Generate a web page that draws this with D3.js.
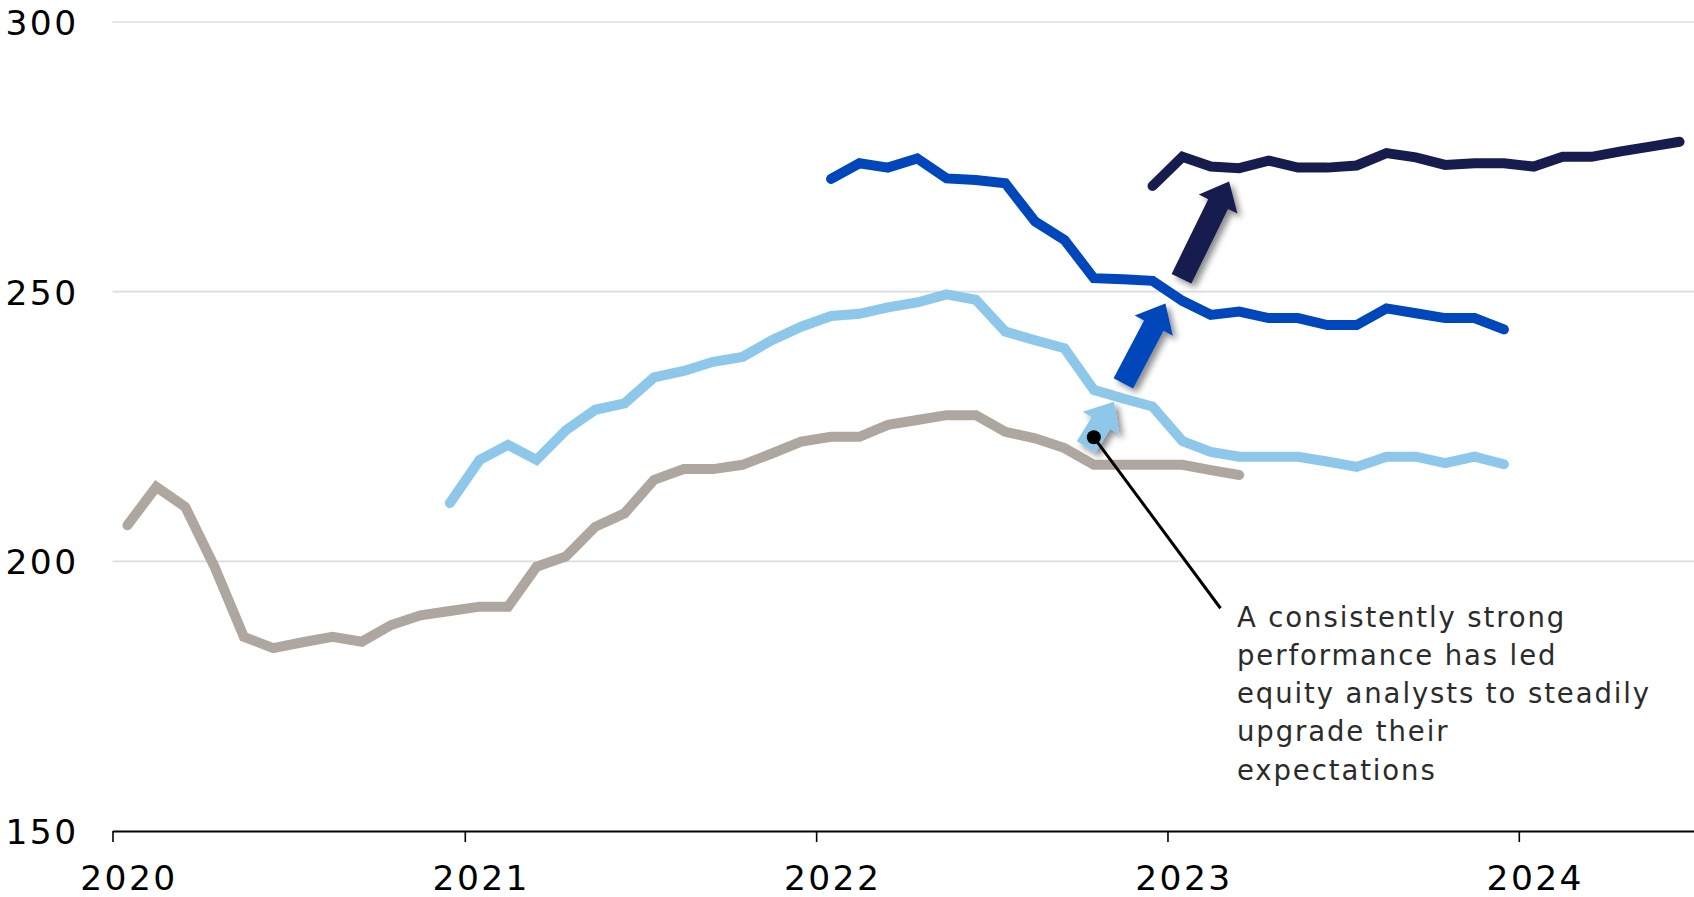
<!DOCTYPE html>
<html>
<head>
<meta charset="utf-8">
<script src="https://cdn.jsdelivr.net/npm/d3@7"></script>
<style>
  html, body { margin: 0; padding: 0; background: #fff; }
  svg { display: block; }
</style>
</head>
<body>
<svg id="chart" width="1694" height="897"></svg>
<script>
// ---------------- DATA ----------------
const yTicks = [150, 200, 250, 300];
const xTickYears = [2020, 2021, 2022, 2023, 2024];

// monthly series, first month given, one value per month
const grayStart = "2020-01";
const grayValues = [206.7, 213.8, 210.1, 199.0, 186.0, 183.9, 185.0, 186.0, 185.1, 188.2,
  190.0, 190.8, 191.6, 191.6, 199.0, 200.9, 206.4, 208.9, 215.1, 217.1,
  217.1, 217.9, 220.0, 222.2, 223.1, 223.1, 225.3, 226.2, 227.1, 227.1,
  224.0, 222.8, 221.0, 217.9, 217.9, 217.9, 217.9, 216.9, 216.0];

const lightStart = "2020-12";
const lightValues = [210.8, 218.8, 221.6, 218.8, 224.3, 228.1, 229.3, 234.1, 235.3, 237.0,
  237.9, 241.0, 243.5, 245.5, 245.9, 247.1, 248.0, 249.5, 248.5, 242.6,
  241.0, 239.5, 231.8, 230.2, 228.7, 222.3, 220.3, 219.4, 219.4, 219.4,
  218.5, 217.5, 219.4, 219.4, 218.2, 219.4, 218.0];

const mediumStart = "2022-01";
const mediumValues = [270.9, 273.8, 273.0, 274.7, 271.0, 270.7, 270.1, 263.0, 259.6, 252.5,
  252.3, 252.0, 248.3, 245.7, 246.3, 245.1, 245.1, 243.8, 243.8, 246.9,
  246.0, 245.1, 245.1, 243.0];

const navyStart = "2022-12";
const navyValues = [269.6, 275.0, 273.2, 272.9, 274.3, 273.0, 273.0, 273.4, 275.7, 274.9,
  273.5, 273.8, 273.8, 273.2, 275.0, 275.0, 276.0, 276.9, 277.8];

// arrows: [tail month index from Jan 2020, tail value, tip month index, tip value]
const arrowLight  = [32.75, 221.2, 33.68, 229.6];
const arrowMedium = [33.99, 233.0, 35.43, 247.8];
const arrowNavy   = [35.97, 252.4, 37.68, 270.4];

// annotation
const annoDot = [33.0, 223.0];
const annoEnd = [37.36, 191.3];
const annoLines = ["A consistently strong", "performance has led",
  "equity analysts to steadily", "upgrade their", "expectations"];

// ---------------- SETUP ----------------
const colors = { gray: "#AEA79F", light: "#8DC8EA", medium: "#0047BB", navy: "#161C4E" };

const svg = d3.select("#chart");
const W = 1694, H = 897;

const x = d3.scaleTime()
  .domain([new Date(2020, 0, 1), new Date(2024, 6, 1)])
  .range([112.5, 1694]);
const y = d3.scaleLinear().domain([150, 300]).range([831, 22]);

const parseMonth = d3.timeParse("%Y-%m");
function midMonth(d) {
  const s = d3.timeMonth.floor(d), e = d3.timeMonth.offset(s, 1);
  return new Date((+s + +e) / 2);
}
function seriesData(start, values) {
  const s = parseMonth(start);
  return values.map((v, k) => ({ date: midMonth(d3.timeMonth.offset(s, k)), value: v }));
}
function fracMonthDate(f) {
  const base = new Date(2020, 0, 1);
  const m = Math.floor(f);
  const s = d3.timeMonth.offset(base, m), e = d3.timeMonth.offset(s, 1);
  return new Date(+s + (f - m + 0.5) * (e - s));
}

// drop shadow filter
const defs = svg.append("defs");
const f = defs.append("filter").attr("id", "shadow")
  .attr("x", "-50%").attr("y", "-50%").attr("width", "200%").attr("height", "200%");
f.append("feDropShadow").attr("dx", 4).attr("dy", 4).attr("stdDeviation", 3)
  .attr("flood-color", "#000").attr("flood-opacity", 0.45);

// ---------------- GRID ----------------
svg.append("g").selectAll("line")
  .data(yTicks.filter(t => t !== 150))
  .join("line")
  .attr("x1", 112.5).attr("x2", W)
  .attr("y1", d => y(d)).attr("y2", d => y(d))
  .attr("stroke", "#dcdcdc").attr("stroke-width", 1.6);

// Y labels
const yAxis = svg.append("g").attr("transform", "translate(78.5,0)")
  .call(d3.axisLeft(y).tickValues(yTicks).tickSize(0).tickPadding(0));
yAxis.select(".domain").remove();
yAxis.selectAll("text")
  .attr("font-family", "DejaVu Sans, sans-serif")
  .attr("font-size", 34.5)
  .attr("letter-spacing", "2.4px")
  .attr("fill", "#000")
  .attr("dy", "0.36em");

// X axis
const halfMonth = x(new Date(2020, 0, 16)) - x(new Date(2020, 0, 1));
const xAxis = svg.append("g").attr("transform", "translate(0,831)")
  .call(d3.axisBottom(x)
    .tickValues(xTickYears.map(yr => new Date(yr, 0, 1)))
    .tickFormat(d3.timeFormat("%Y"))
    .tickSize(11).tickSizeOuter(0));
xAxis.select(".domain").attr("stroke", "#000").attr("stroke-width", 2);
xAxis.selectAll(".tick line").attr("stroke", "#000").attr("stroke-width", 1.6);
xAxis.selectAll(".tick text")
  .attr("font-family", "DejaVu Sans, sans-serif")
  .attr("font-size", 34.5)
  .attr("letter-spacing", "2.4px")
  .attr("fill", "#000")
  .attr("x", halfMonth + 1.5)
  .attr("y", 59)
  .attr("dy", 0);

// ---------------- LINES ----------------
const line = d3.line().x(d => x(d.date)).y(d => y(d.value));
const series = [
  { data: seriesData(grayStart, grayValues), color: colors.gray },
  { data: seriesData(lightStart, lightValues), color: colors.light },
  { data: seriesData(mediumStart, mediumValues), color: colors.medium },
  { data: seriesData(navyStart, navyValues), color: colors.navy }
];
svg.append("g").selectAll("path")
  .data(series)
  .join("path")
  .attr("d", d => line(d.data))
  .attr("fill", "none")
  .attr("stroke", d => d.color)
  .attr("stroke-width", 10)
  .attr("stroke-linecap", "round")
  .attr("stroke-linejoin", "miter");

// ---------------- ARROWS ----------------
function arrowPath(a) {
  const tx = x(fracMonthDate(a[0])), ty = y(a[1]);
  const px = x(fracMonthDate(a[2])), py = y(a[3]);
  const L = Math.hypot(px - tx, py - ty);
  const ux = (px - tx) / L, uy = (py - ty) / L;
  const nx = -uy, ny = ux;
  const sw = 22 / 2, hw = 43 / 2, hl = 25;
  const bx = px - ux * hl, by = py - uy * hl;
  const pts = [
    [tx + nx * sw, ty + ny * sw], [bx + nx * sw, by + ny * sw], [bx + nx * hw, by + ny * hw],
    [px, py],
    [bx - nx * hw, by - ny * hw], [bx - nx * sw, by - ny * sw], [tx - nx * sw, ty - ny * sw]
  ];
  return "M" + pts.map(p => p[0].toFixed(1) + "," + p[1].toFixed(1)).join("L") + "Z";
}
svg.append("g").selectAll("path")
  .data([{ a: arrowLight, c: colors.light }, { a: arrowMedium, c: colors.medium }, { a: arrowNavy, c: colors.navy }])
  .join("path")
  .attr("d", d => arrowPath(d.a))
  .attr("fill", d => d.c)
  .attr("filter", "url(#shadow)");

// ---------------- ANNOTATION ----------------
const dx0 = x(fracMonthDate(annoDot[0])), dy0 = y(annoDot[1]);
const dx1 = x(fracMonthDate(annoEnd[0])), dy1 = y(annoEnd[1]);
svg.append("line")
  .attr("x1", dx0).attr("y1", dy0).attr("x2", dx1).attr("y2", dy1)
  .attr("stroke", "#000").attr("stroke-width", 3);
svg.append("circle").attr("cx", dx0).attr("cy", dy0).attr("r", 7).attr("fill", "#000");

svg.append("text")
  .attr("font-family", "DejaVu Sans, sans-serif")
  .attr("font-size", 27.5)
  .attr("letter-spacing", "1.9px")
  .attr("fill", "#2b2b2b")
  .selectAll("tspan")
  .data(annoLines)
  .join("tspan")
  .attr("x", 1237)
  .attr("y", (d, i) => 626.5 + i * 38.3)
  .text(d => d);
</script>
</body>
</html>
